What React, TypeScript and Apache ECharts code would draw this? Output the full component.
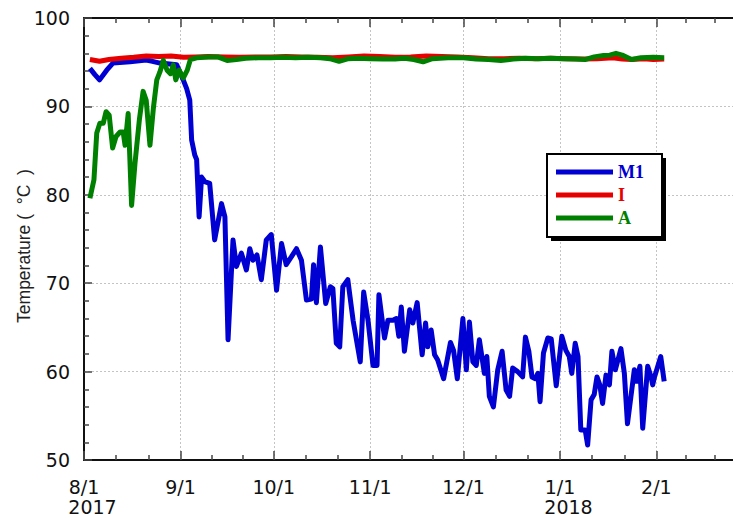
import React, { useEffect, useRef } from "react";
import * as echarts from "echarts";

// Day offsets are days since 2017-08-01 (local time)
const m1Days = [1.9, 3.5, 5.0, 7.3, 9.3, 14.8, 20.0, 22.0, 24.4, 29.8, 31.9, 33.0, 34.0, 34.6, 35.6, 36.2, 37.0, 37.8, 38.8, 40.4, 42.0, 44.2, 45.3, 46.3, 47.9, 49.0, 50.6, 52.2, 53.3, 54.3, 55.6, 57.0, 58.6, 60.2, 61.9, 63.5, 65.0, 66.7, 68.3, 69.9, 71.5, 73.1, 73.8, 74.7, 76.0, 77.7, 79.2, 80.0, 81.1, 82.2, 83.2, 84.8, 86.5, 88.8, 89.9, 91.3, 92.9, 94.2, 94.8, 96.6, 97.7, 99.3, 100.4, 101.2, 102.0, 103.0, 104.7, 105.7, 107.1, 108.7, 109.8, 110.5, 111.6, 112.7, 113.7, 115.6, 117.8, 118.8, 120.0, 121.8, 122.9, 123.9, 125.0, 126.1, 127.1, 128.7, 129.5, 130.3, 131.6, 133.0, 134.4, 135.7, 136.8, 137.8, 139.4, 141.0, 141.9, 143.0, 144.0, 145.1, 145.9, 146.6, 147.7, 149.1, 150.2, 151.8, 153.6, 154.9, 156.0, 156.8, 157.9, 158.8, 159.7, 161.1, 161.9, 163.0, 164.0, 164.9, 165.8, 166.7, 167.8, 168.9, 169.7, 170.8, 172.6, 173.7, 174.7, 176.9, 177.6, 178.7, 179.6, 181.2, 182.3, 182.8, 183.4, 185.4, 186.5];
const m1Temps = [94.3, 93.6, 93.0, 94.1, 94.9, 95.05, 95.25, 95.1, 94.9, 94.7, 93.0, 92.0, 90.7, 86.2, 84.5, 84.0, 77.5, 82.0, 81.5, 81.3, 74.9, 79.0, 77.5, 63.6, 74.9, 71.9, 73.4, 71.5, 73.9, 72.6, 73.2, 70.4, 74.9, 75.5, 69.2, 74.5, 72.1, 73.0, 73.9, 72.6, 68.1, 68.2, 72.1, 67.8, 74.1, 67.7, 69.6, 69.4, 63.2, 62.8, 69.6, 70.4, 65.8, 61.1, 69.0, 65.8, 60.7, 60.7, 68.7, 63.8, 65.8, 65.8, 66.0, 64.0, 67.3, 62.3, 67.0, 65.5, 67.8, 61.9, 65.5, 62.8, 64.7, 61.9, 61.3, 59.2, 63.3, 62.4, 59.2, 66.0, 60.2, 65.6, 61.1, 60.7, 63.6, 59.8, 61.7, 57.2, 56.0, 60.2, 62.3, 57.9, 57.2, 60.4, 60.0, 59.4, 63.9, 62.3, 59.4, 59.2, 59.8, 56.6, 62.1, 63.8, 63.7, 58.4, 64.0, 62.4, 61.7, 59.8, 63.2, 61.7, 53.4, 53.4, 51.7, 56.8, 57.4, 59.4, 58.5, 56.4, 59.6, 58.5, 62.3, 60.2, 62.6, 59.8, 54.1, 60.2, 58.9, 60.6, 53.6, 60.6, 59.4, 58.5, 59.4, 61.7, 58.9];

const iDays = [1.9, 5, 8, 12, 16, 20, 24, 28, 32, 36, 40, 45, 50, 55, 60, 65, 70, 75, 80, 85, 90, 95, 100, 105, 110, 115, 120, 125, 130, 135, 140, 145, 150, 155, 160, 165, 170, 173, 176, 180, 183, 186.5];
const iTemps = [95.3, 95.1, 95.3, 95.45, 95.55, 95.7, 95.65, 95.7, 95.55, 95.6, 95.65, 95.6, 95.55, 95.6, 95.6, 95.65, 95.6, 95.55, 95.5, 95.6, 95.7, 95.65, 95.55, 95.6, 95.7, 95.65, 95.6, 95.5, 95.4, 95.4, 95.45, 95.4, 95.45, 95.4, 95.35, 95.4, 95.5, 95.35, 95.3, 95.4, 95.3, 95.35];

const aDays = [1.9, 3.2, 4.1, 5.1, 6.2, 7.1, 8.1, 9.2, 10.3, 11.6, 12.6, 13.2, 14.2, 15.3, 16.4, 17.8, 19.0, 20.0, 21.2, 22.3, 23.4, 24.4, 25.5, 26.7, 27.8, 28.7, 29.5, 30.6, 31.9, 33.2, 34.2, 36.2, 40, 43, 46, 49, 52, 56, 60, 64, 68, 72, 76, 79, 82, 85, 88, 92, 96, 100, 103, 106, 109, 112, 117, 122, 126, 130, 134, 138, 142, 146, 150, 154, 158, 161, 164, 167, 169, 171, 173, 176, 179, 183, 186.5];
const aTemps = [79.6, 81.7, 87.0, 88.1, 88.1, 89.4, 89.0, 85.3, 86.6, 87.1, 87.1, 85.6, 89.2, 78.8, 83.6, 88.5, 91.7, 90.7, 85.6, 89.8, 93.0, 93.9, 95.2, 94.1, 93.7, 94.7, 93.0, 94.1, 93.2, 94.1, 95.3, 95.5, 95.6, 95.6, 95.2, 95.3, 95.45, 95.5, 95.5, 95.55, 95.5, 95.55, 95.5, 95.4, 95.1, 95.4, 95.45, 95.4, 95.35, 95.35, 95.45, 95.3, 95.05, 95.4, 95.5, 95.5, 95.35, 95.3, 95.2, 95.35, 95.45, 95.4, 95.45, 95.4, 95.35, 95.3, 95.6, 95.75, 95.8, 96.0, 95.8, 95.3, 95.5, 95.55, 95.5];

const seriesNames = ["M1", "I", "A"];
const seriesColors = ["#0000d2", "#e60000", "#008000"];
const yTicks = [50, 100, 10];

const BASE = new Date(2017, 7, 1).getTime();
const X_MAX = new Date(2018, 2, 1).getTime();
const DAY = 86400000;
const toPairs = (days: number[], temps: number[]) =>
  days.map((d, i) => [BASE + d * DAY, temps[i]]);

const TICK_FONT = "'DejaVu Sans', Verdana, sans-serif";

function monthLabel(v: number): string {
  const d = new Date(v);
  const m = d.getMonth() + 1;
  const day = d.getDate();
  if (day !== 1 || m === 3) return "";
  const s = `${m}/${day}`;
  if (m === 8 && d.getFullYear() === 2017) return `{m|${s}}\n{y|2017}`;
  if (m === 1) return `{m|${s}}\n{y|${d.getFullYear()}}`;
  return `{m|${s}}`;
}

export default function App() {
  const ref = useRef<HTMLDivElement>(null);
  useEffect(() => {
    if (!ref.current) return;
    const chart = echarts.init(ref.current, null, { renderer: "svg" });
    const axisLineStyle = { color: "#111", width: 2 };
    const tickStyle = { color: "#444", width: 1.5 };
    const data = [toPairs(m1Days, m1Temps), toPairs(iDays, iTemps), toPairs(aDays, aTemps)];
    chart.setOption({
      animation: false,
      backgroundColor: "#ffffff",
      grid: {
        left: 84,
        top: 18,
        width: 659.5,
        height: 442,
        containLabel: false,
        outerBoundsMode: "none",
      },
      xAxis: [
        {
          type: "time",
          min: BASE,
          max: X_MAX,
          minInterval: 28 * DAY,
          maxInterval: 31 * DAY,
          axisLine: { show: true, onZero: false, lineStyle: axisLineStyle },
          axisTick: { show: true, inside: true, length: 9, lineStyle: tickStyle },
          minorTick: { show: true, splitNumber: 3, length: 5, lineStyle: tickStyle },
          splitLine: { show: true, lineStyle: { color: "#c4c4c4", type: [2, 2], width: 1 } },
          axisLabel: {
            show: true,
            margin: 17,
            formatter: monthLabel,
            hideOverlap: false,
            showMinLabel: true,
            showMaxLabel: true,
            rich: {
              m: { fontFamily: TICK_FONT, fontSize: 19, color: "#111", lineHeight: 20 },
              y: { fontFamily: TICK_FONT, fontSize: 19, color: "#111", lineHeight: 20, padding: [0, 0, 0, 17] },
            },
          },
        },
        {
          type: "time",
          position: "top",
          min: BASE,
          max: X_MAX,
          minInterval: 28 * DAY,
          maxInterval: 31 * DAY,
          axisLine: { show: true, onZero: false, lineStyle: axisLineStyle },
          axisTick: { show: true, inside: true, length: 9, lineStyle: tickStyle },
          minorTick: { show: true, splitNumber: 3, length: 5, lineStyle: tickStyle },
          splitLine: { show: false },
          axisLabel: { show: false },
        },
      ],
      yAxis: {
        type: "value",
        min: yTicks[0],
        max: yTicks[1],
        interval: yTicks[2],
        name: "Temperature ( \u00a0°C\u00a0 )",
        nameLocation: "middle",
        nameGap: 51,
        nameMoveOverlap: false,
        nameTextStyle: {
          fontFamily: "'Liberation Sans', Arial, sans-serif",
          fontSize: 17.5,
          color: "#222",
          padding: [0, 14, 0, 0],
        },
        axisLine: { show: true, onZero: false, lineStyle: axisLineStyle },
        axisTick: { show: true, inside: true, length: 8, lineStyle: tickStyle },
        minorTick: { show: true, splitNumber: 5, length: 5, lineStyle: tickStyle },
        splitLine: { show: true, lineStyle: { color: "#c4c4c4", type: [2, 2], width: 1 } },
        axisLabel: { margin: 14, fontFamily: TICK_FONT, fontSize: 19, color: "#111" },
      },
      graphic: [
        { type: "rect", z: 3, shape: { x: 551, y: 158, width: 115, height: 83 }, style: { fill: "#000" } },
        { type: "rect", z: 3, shape: { x: 547, y: 154, width: 115, height: 83 }, style: { fill: "#fff", stroke: "#000", lineWidth: 2 } },
      ],
      legend: {
        orient: "vertical",
        left: 556,
        top: 163,
        padding: 0,
        itemGap: 5,
        itemWidth: 57,
        itemHeight: 5,
        icon: "rect",
        z: 5,
        textStyle: { fontFamily: "'Liberation Serif', 'Times New Roman', serif", fontWeight: "bold", fontSize: 18 },
        data: seriesNames.map((n, i) => ({ name: n, textStyle: { color: seriesColors[i] } })),
      },
      series: seriesNames.map((n, i) => ({
        name: n,
        type: "line",
        data: data[i],
        showSymbol: false,
        symbol: "none",
        color: seriesColors[i],
        lineStyle: { width: 5, color: seriesColors[i], join: "round" },
        z: 2 + i * 0.1,
      })),
    });
    return () => chart.dispose();
  }, []);
  return (
    <div style={{ position: "fixed", left: 0, top: 0, width: 733, height: 518, overflow: "hidden", background: "#fff" }}>
      <div ref={ref} style={{ position: "absolute", left: 0, top: 0, width: 770, height: 518 }} />
    </div>
  );
}
